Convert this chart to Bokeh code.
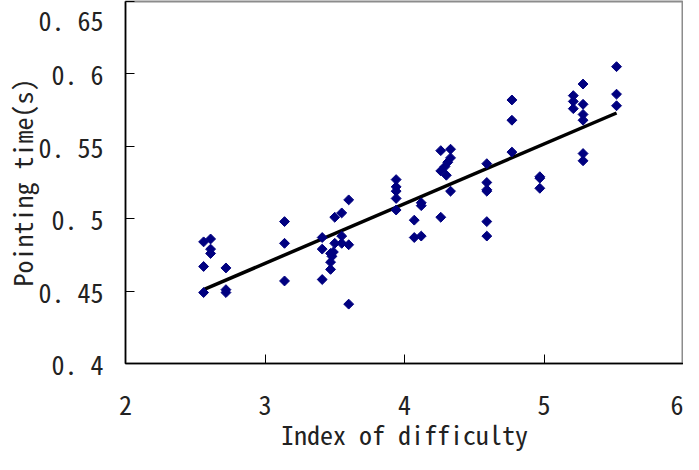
from bokeh.plotting import figure
from bokeh.embed import file_html
from bokeh.resources import INLINE
from bokeh.models import FixedTicker
import math

# Index of difficulty (x) and pointing time in seconds (y)
id_vals = [2.56, 2.61, 2.61, 2.61, 2.56, 2.56, 2.72, 2.72, 2.72,
           3.14, 3.14, 3.14,
           3.41, 3.41, 3.41, 3.47, 3.47, 3.47, 3.50, 3.55, 3.55, 3.50, 3.55,
           3.60, 3.60, 3.60, 3.48, 3.49,
           3.94, 3.94, 3.94, 3.94, 3.94,
           4.07, 4.07, 4.12, 4.12, 4.12,
           4.26, 4.33, 4.33, 4.31, 4.29, 4.26, 4.30, 4.33, 4.26,
           4.59, 4.59, 4.59, 4.59, 4.59, 4.59,
           4.77, 4.77, 4.77,
           4.97, 4.97, 4.97,
           5.21, 5.21, 5.21,
           5.28, 5.28, 5.28, 5.28, 5.28, 5.28,
           5.52, 5.52, 5.52]
time_vals = [0.484, 0.486, 0.479, 0.476, 0.467, 0.449, 0.466, 0.451, 0.449,
             0.498, 0.483, 0.457,
             0.487, 0.479, 0.458, 0.476, 0.470, 0.465, 0.501, 0.504, 0.488, 0.483, 0.483,
             0.482, 0.513, 0.441, 0.474, 0.477,
             0.527, 0.522, 0.519, 0.514, 0.506,
             0.499, 0.487, 0.488, 0.511, 0.509,
             0.547, 0.548, 0.542, 0.539, 0.536, 0.533, 0.530, 0.519, 0.501,
             0.538, 0.525, 0.520, 0.519, 0.498, 0.488,
             0.582, 0.568, 0.546,
             0.529, 0.528, 0.521,
             0.585, 0.581, 0.576,
             0.593, 0.579, 0.572, 0.568, 0.545, 0.540,
             0.605, 0.586, 0.578]

# Trend line end points
fit_x = [2.56, 5.52]
fit_y = [0.451, 0.573]

x_ticks = [2, 3, 4, 5, 6]
y_ticks = [0.4, 0.45, 0.5, 0.55, 0.6, 0.65]
y_tick_labels = ["0. 4", "0. 45", "0. 5", "0. 55", "0. 6", "0. 65"]
x_title = "Index of difficulty"
y_title = "Pointing time(s)"

FONT = "Noto Sans Mono CJK SC"
TEXT_COLOR = "#222222"

p = figure(width=683, height=454, output_backend="svg", toolbar_location=None,
           x_range=(2, 6), y_range=(0.4, 0.65),
           min_border_left=125, min_border_right=0, min_border_top=1, min_border_bottom=91)

p.grid.visible = False
p.outline_line_color = "#8c8c8c"
p.outline_line_width = 2
p.background_fill_color = "white"
p.border_fill_color = "white"

p.line(fit_x, fit_y, line_color="black", line_width=3.5)
p.scatter(id_vals, time_vals, marker="square", size=7, angle=math.pi / 4,
          fill_color="#000080", line_color="#000080")

p.xaxis.ticker = FixedTicker(ticks=x_ticks)
p.yaxis.ticker = FixedTicker(ticks=y_ticks)
p.yaxis.major_label_overrides = {t: l for t, l in zip(y_ticks, y_tick_labels)}
p.xaxis.major_label_overrides = {t: str(t) for t in x_ticks}

for ax in (p.xaxis, p.yaxis):
    ax.major_tick_in = 9
    ax.major_tick_out = 0
    ax.minor_tick_line_color = None
    ax.axis_line_color = "#000000"
    ax.axis_line_width = 1.5
    ax.major_tick_line_color = "#000000"
    ax.major_label_text_font = FONT
    ax.major_label_text_font_size = "26px"
    ax.major_label_text_color = TEXT_COLOR
    ax.axis_label_text_font = FONT
    ax.axis_label_text_font_size = "26px"
    ax.axis_label_text_font_style = "normal"
    ax.axis_label_text_color = TEXT_COLOR

p.xaxis.axis_label = x_title
p.yaxis.axis_label = y_title
p.xaxis.major_label_standoff = 32
p.xaxis.axis_label_standoff = -3
p.yaxis.major_label_standoff = 22
p.yaxis.major_label_text_baseline = "hanging"
p.yaxis.axis_label_standoff = -5

open("out.html", "w").write(file_html(p, INLINE))
